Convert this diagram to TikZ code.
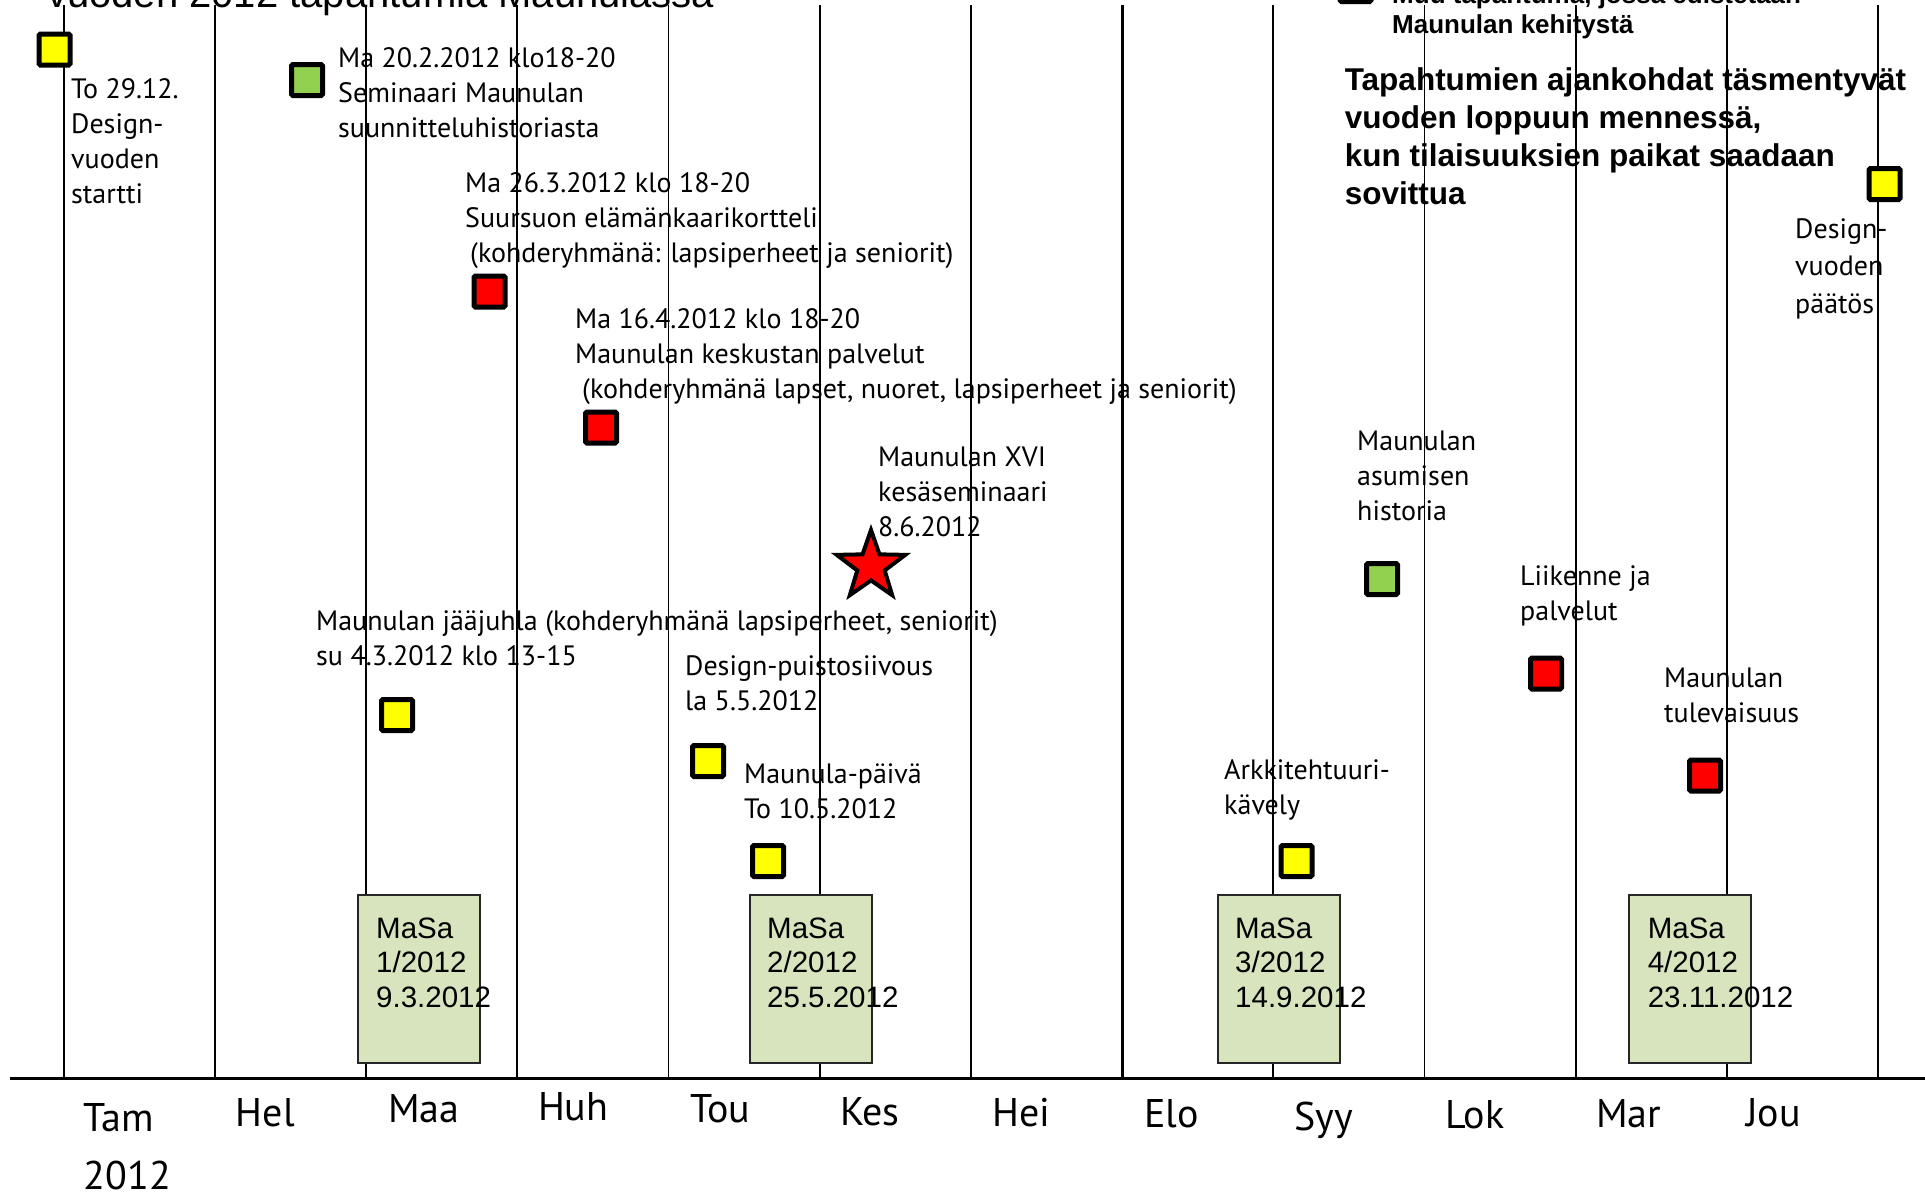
\documentclass[tikz,border=0pt]{standalone}
\usepackage{fontspec}
\setmainfont{PT Sans}
\newfontfamily\arialfont{Liberation Sans}
\usetikzlibrary{shapes.geometric}
\definecolor{evyellow}{HTML}{FFFF00}
\definecolor{evgreen}{HTML}{92D050}
\definecolor{evred}{HTML}{FF0000}
\definecolor{masagreen}{HTML}{D7E4BD}
\tikzset{
  lbl/.style={anchor=base west, inner sep=0pt, align=left, font=\fontsize{28}{35}\selectfont},
  monthlbl/.style={anchor=base west, inner sep=0pt, align=left, font=\fontsize{40}{58}\selectfont},
  masatext/.style={anchor=base west, inner sep=0pt, align=left, font=\arialfont\fontsize{29.5}{34.5}\selectfont},
  evsq/.style={rectangle, draw=black, line width=5pt, minimum size=31pt, inner sep=0pt, rounded corners=1.5pt},
  ysq/.style={evsq, fill=evyellow},
  gsq/.style={evsq, fill=evgreen},
  rsq/.style={evsq, fill=evred},
  masabox/.style={draw=black!85, line width=1.5pt, fill=masagreen},
  gridline/.style={line width=1.8pt},
}
\begin{document}
\begin{tikzpicture}[x=1pt,y=-1pt]
\useasboundingbox (0,0) rectangle (1925,1195);
% month grid lines
\foreach \i in {0,...,12}{
  \draw[gridline] ({63.8+151.18*\i},5) -- ({63.8+151.18*\i},1078);
}
\draw[line width=3pt] (1122.1,5) -- (1122.1,1078);
% axis
\draw[line width=3pt] (10,1078) -- (1925,1078);

% title (cut off at top)
\node[anchor=base west, inner sep=0pt, font=\arialfont\fontsize{40}{48}\selectfont] (title) at (47,7) {vuoden 2012 tapahtumia Maunulassa};

% legend (cut off)
\node[evsq, fill=white] (legsq) at (1355.5,-14) {};
\node[anchor=base west, inner sep=0pt, align=left, font=\arialfont\bfseries\fontsize{26}{30}\selectfont] (legtext) at (1392,33) {Muu tapahtuma, jossa edistetään\\Maunulan kehitystä};

% note (base anchor = last line)
\node[anchor=base west, inner sep=0pt, align=left, font=\arialfont\bfseries\fontsize{31.5}{38}\selectfont] (note) at (1344.6,204) {Tapahtumien ajankohdat täsmentyvät\\vuoden loppuun mennessä,\\kun tilaisuuksien paikat saadaan\\sovittua};

% MaSa boxes
\draw[masabox] (358,895) rectangle (480,1063);
\draw[masabox] (750,895) rectangle (872,1063);
\draw[masabox] (1218,895) rectangle (1340,1063);
\draw[masabox] (1629,895) rectangle (1751,1063);
\node[masatext] (masa1) at (376,1007) {MaSa\\1/2012\\9.3.2012};
\node[masatext] (masa2) at (767,1007) {MaSa\\2/2012\\25.5.2012};
\node[masatext] (masa3) at (1235,1007) {MaSa\\3/2012\\14.9.2012};
\node[masatext] (masa4) at (1647.6,1007) {MaSa\\4/2012\\23.11.2012};

% event squares
\node[ysq] (y1) at (54.5,49.5) {};
\node[gsq] (g1) at (307,80) {};
\node[rsq] (r1) at (489.5,291.5) {};
\node[rsq] (r2) at (601,427.5) {};
\node[ysq] (y2) at (397,715) {};
\node[ysq] (y3) at (708,761) {};
\node[ysq] (y4) at (768,861) {};
\node[gsq] (g2) at (1382,579) {};
\node[rsq] (r3) at (1546,673.5) {};
\node[rsq] (r4) at (1705,775.5) {};
\node[ysq] (y5) at (1296.5,861) {};
\node[ysq] (y6) at (1884.5,184) {};
\node[star, star points=5, star point ratio=2.5, minimum size=72pt, inner sep=0pt, draw=black, line width=4pt, fill=evred, line join=miter] (star) at (871,566) {};

% labels (base anchor = baseline of last line)
\node[lbl] (l1) at (71,203) {To 29.12.\\Design-\\vuoden\\startti};
\node[lbl] (l2) at (338,137) {Ma 20.2.2012 klo18-20\\Seminaari Maunulan\\suunnitteluhistoriasta};
\node[lbl] (l3) at (465,262) {Ma 26.3.2012 klo 18-20\\Suursuon elämänkaarikortteli\\\hspace*{5pt}(kohderyhmänä: lapsiperheet ja seniorit)};
\node[lbl] (l4) at (575,398) {Ma 16.4.2012 klo 18-20\\Maunulan keskustan palvelut\\\hspace*{7pt}(kohderyhmänä lapset, nuoret, lapsiperheet ja seniorit)};
\node[lbl] (l5) at (878,536) {Maunulan XVI\\kesäseminaari\\8.6.2012};
\node[lbl] (l6) at (316,665) {Maunulan jääjuhla (kohderyhmänä lapsiperheet, seniorit)\\su 4.3.2012 klo 13-15};
\node[lbl] (l7) at (685,710) {Design-puistosiivous\\la 5.5.2012};
\node[lbl] (l8) at (744,818) {Maunula-päivä\\To 10.5.2012};
\node[lbl] (l9) at (1357,520) {Maunulan\\asumisen\\historia};
\node[lbl] (l10) at (1520,620) {Liikenne ja\\palvelut};
\node[lbl] (l11) at (1664,722) {Maunulan\\tulevaisuus};
\node[lbl] (l12) at (1224,814) {Arkkitehtuuri-\\kävely};
\node[lbl, font=\fontsize{28}{37.5}\selectfont] (l13) at (1795,313) {Design-\\vuoden\\päätös};

% months
\node[monthlbl] (m1) at (83.5,1189.7) {Tam\\2012};
\node[monthlbl] (m2) at (235.7,1126.7) {Hel};
\node[monthlbl] (m3) at (388,1122.7) {Maa};
\node[monthlbl] (m4) at (537.8,1120.7) {Huh};
\node[monthlbl] (m5) at (690,1122.7) {Tou};
\node[monthlbl] (m6) at (839.8,1125) {Kes};
\node[monthlbl] (m7) at (992,1126) {Hei};
\node[monthlbl] (m8) at (1144,1127) {Elo};
\node[monthlbl] (m9) at (1294,1130) {Syy};
\node[monthlbl] (m10) at (1445,1128) {Lok};
\node[monthlbl] (m11) at (1596,1127) {Mar};
\node[monthlbl] (m12) at (1746,1126) {Jou};
\end{tikzpicture}
\end{document}
